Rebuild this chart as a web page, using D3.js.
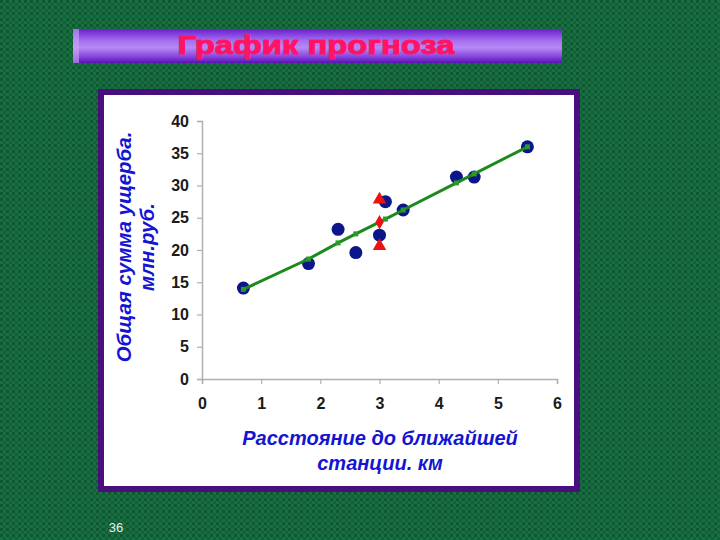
<!DOCTYPE html>
<html><head><meta charset="utf-8">
<script src="https://cdn.jsdelivr.net/npm/d3@7/dist/d3.min.js"></script>
<style>html,body{margin:0;padding:0;background:#156a3c;overflow:hidden}</style>
</head><body>
<svg id="c" width="720" height="540"></svg>
<script>
// ---- data ----
const titleText = "График прогноза";
const yLabelLines = ["Общая сумма ущерба.", "млн.руб."];
const xLabelLines = ["Расстояние до ближайшей", "станции. км"];
const xTicks = [0, 1, 2, 3, 4, 5, 6];
const yTicks = [0, 5, 10, 15, 20, 25, 30, 35, 40];
const obsX = [0.7, 1.8, 2.3, 2.6, 3.0, 3.1, 3.4, 4.3, 4.6, 5.5];
const obsY = [14.1, 17.9, 23.2, 19.6, 22.3, 27.5, 26.2, 31.3, 31.3, 36.0];
const fitX = [0.7, 1.8, 2.3, 2.6, 3.1, 3.4, 4.3, 4.6, 5.5];
const fitY = [13.9, 18.6, 21.1, 22.5, 24.8, 26.2, 30.4, 31.8, 36.0];
const forecastX = [3.0];
const forecastY = [24.3];
const intervalX = [3.0, 3.0];
const intervalY = [27.8, 20.6];
const pageNumber = "36";

const svg = d3.select("#c");
const defs = svg.append("defs");

// background pattern
const pat = defs.append("pattern").attr("id","bg").attr("width",6).attr("height",6).attr("patternUnits","userSpaceOnUse");
pat.append("rect").attr("width",6).attr("height",6).attr("fill","#17703f");
pat.append("rect").attr("x",0).attr("y",0).attr("width",3).attr("height",3).attr("fill","#0f5731");
pat.append("rect").attr("x",3).attr("y",3).attr("width",3).attr("height",3).attr("fill","#12603a");
svg.append("rect").attr("width",720).attr("height",540).attr("fill","url(#bg)");

// title bar
const g1 = defs.append("linearGradient").attr("id","tb").attr("x1",0).attr("y1",0).attr("x2",0).attr("y2",1);
[[0,"#6a1ed0"],[0.35,"#a670f0"],[0.55,"#b58af5"],[0.8,"#8a48e0"],[1,"#5a12b0"]].forEach(s=>g1.append("stop").attr("offset",s[0]).attr("stop-color",s[1]));
svg.append("rect").attr("x",73).attr("y",29).attr("width",489).attr("height",34).attr("fill","url(#tb)");
svg.append("rect").attr("x",73).attr("y",29).attr("width",6).attr("height",34).attr("fill","#c9a8f7").attr("opacity",0.6);
svg.append("text").attr("x",316).attr("y",54).attr("text-anchor","middle")
  .attr("font-family","Liberation Sans, Arial, sans-serif").attr("font-weight","bold").attr("font-size",25)
  .attr("fill","#ff1464").attr("stroke","#ff1464").attr("stroke-width",1)
  .attr("textLength",277).attr("lengthAdjust","spacingAndGlyphs").text(titleText);

// chart box
svg.append("rect").attr("x",101).attr("y",92).attr("width",476).attr("height",397)
  .attr("fill","#ffffff").attr("stroke","#4a0f7e").attr("stroke-width",6);

// scales
const x = d3.scaleLinear().domain([0,6]).range([202,557]);
const y = d3.scaleLinear().domain([0,40]).range([379,121]);

const font = "Liberation Sans, Arial, sans-serif";
const yAxis = svg.append("g").attr("transform",`translate(${x(0)},0)`)
  .call(d3.axisLeft(y).tickValues(yTicks).tickFormat(d3.format("d")).tickSize(5).tickPadding(8));
const xAxis = svg.append("g").attr("transform",`translate(0,${y(0)})`)
  .call(d3.axisBottom(x).tickValues(xTicks).tickFormat(d3.format("d")).tickSize(5).tickPadding(14));
[yAxis,xAxis].forEach(a=>{
  a.select(".domain").attr("stroke","#b0b0b0").attr("stroke-width",1.5);
  a.selectAll(".tick line").attr("stroke","#b0b0b0").attr("stroke-width",1.2);
  a.selectAll(".tick text").attr("font-family",font).attr("font-weight","bold").attr("font-size",16).attr("fill","#1a1a1a");
});

// axis labels
const yl = svg.append("text").attr("transform","translate(137,247) rotate(-90)").attr("text-anchor","middle")
  .attr("font-family",font).attr("font-weight","bold").attr("font-style","italic").attr("font-size",20.5).attr("fill","#1414d2");
yLabelLines.forEach((t,i)=>yl.append("tspan").attr("x",0).attr("dy", i===0 ? -6 : 23).text(t));
const xl = svg.append("text").attr("text-anchor","middle")
  .attr("font-family",font).attr("font-weight","bold").attr("font-style","italic").attr("font-size",20).attr("fill","#1414d2");
xLabelLines.forEach((t,i)=>xl.append("tspan").attr("x",380).attr("y",445 + i*25).text(t));

// observed points
svg.append("g").selectAll("circle").data(obsX.map((d,i)=>[d,obsY[i]])).join("circle")
  .attr("cx",d=>x(d[0])).attr("cy",d=>y(d[1])).attr("r",6.5).attr("fill","#0c168a");

// fitted line
const fit = fitX.map((d,i)=>[d,fitY[i]]);
svg.append("path").datum(fit).attr("fill","none").attr("stroke","#1b8a1b").attr("stroke-width",3)
  .attr("d",d3.line().x(d=>x(d[0])).y(d=>y(d[1])));
svg.append("g").selectAll("rect").data(fit).join("rect")
  .attr("x",d=>x(d[0])-2.5).attr("y",d=>y(d[1])-2.5).attr("width",5).attr("height",5).attr("fill","#2a9a2a");

// forecast interval triangles
const tri = d3.symbol().type(d3.symbolTriangle).size(80);
svg.append("g").selectAll("path").data(intervalX.map((d,i)=>[d,intervalY[i]])).join("path")
  .attr("d",tri).attr("transform",d=>`translate(${x(d[0])},${y(d[1])})`).attr("fill","#ee1111");
// forecast point
svg.append("g").selectAll("path").data(forecastX.map((d,i)=>[d,forecastY[i]])).join("path")
  .attr("d",d3.symbol().type(d3.symbolDiamond).size(60)).attr("transform",d=>`translate(${x(d[0])},${y(d[1])})`).attr("fill","#ee1111");

// page number
svg.append("text").attr("x",116).attr("y",532).attr("text-anchor","middle").attr("font-family",font)
  .attr("font-size",13).attr("fill","#e6f2e6").text(pageNumber);
</script>
</body></html>
